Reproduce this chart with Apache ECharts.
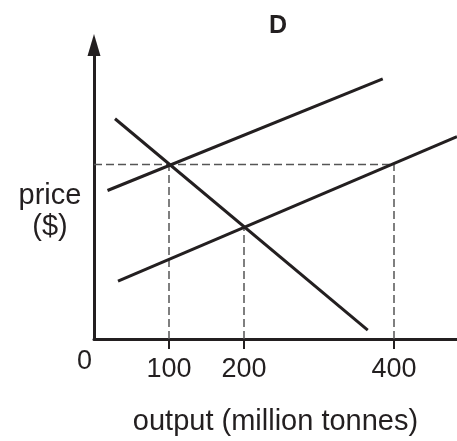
<!DOCTYPE html>
<html>
<head>
<meta charset="utf-8">
<script src="https://cdn.jsdelivr.net/npm/echarts@6/dist/echarts.min.js"></script>
<style>html,body{margin:0;padding:0;background:#fff;}#c{width:457px;height:441px;}</style>
</head>
<body>
<div id="c"></div>
<script>
// ---- data ----
const titleText = 'D';
const xAxisName = 'output (million tonnes)';
const yAxisName = 'price\n($)';
const xTickValues = [100, 200, 400];
const originLabel = [0];
const supplyUpper = [[18, 149], [385, 261]];
const supplyLower = [[32, 58], [484, 203]];
const demand = [[28, 221], [365, 9]];
const eqQuantity = [100, 200, 400];
const eqPrice = [175, 112, 175];
const xMax = 484;
const yMax = 295;

const ink = '#231f20';
const font = 'Liberation Sans, Arial, Helvetica, sans-serif';

const guides = [];
// horizontal guide at the highest equilibrium price
guides.push([[0, eqPrice[0]], [eqQuantity[2], eqPrice[2]]]);
eqQuantity.forEach((q, i) => guides.push([[q, 0], [q, eqPrice[i]]]));

const series = [];
guides.forEach(g => series.push({
  type: 'line', data: g, symbol: 'none', silent: true, xAxisIndex: 0,
  lineStyle: { color: '#555', width: 1.5, type: [8, 4] }, z: 2
}));
[supplyUpper, supplyLower, demand].forEach(d => series.push({
  type: 'line', data: d, symbol: 'none', silent: true, xAxisIndex: 0,
  lineStyle: { color: ink, width: 3 }, z: 3
}));

const chart = echarts.init(document.getElementById('c'), null, { renderer: 'canvas' });
chart.setOption({
  animation: false,
  backgroundColor: '#fff',
  title: [{
    text: titleText, left: 264, top: 9,
    textStyle: { fontFamily: font, fontSize: 25, fontWeight: 'bold', color: ink }
  }, {
    text: yAxisName, left: 50, top: 180, textAlign: 'center', padding: 0,
    textStyle: { fontFamily: font, fontSize: 29, fontWeight: 'normal', color: ink, lineHeight: 31 }
  }],
  grid: { left: 94, right: 0, top: 45, bottom: 101, containLabel: false },
  xAxis: [{
    type: 'value', min: 0, max: xMax,
    name: xAxisName, nameLocation: 'middle', nameGap: 68,
    nameTextStyle: { fontFamily: font, fontSize: 29, color: ink },
    axisLine: { show: true, lineStyle: { color: ink, width: 3 } },
    axisTick: { show: true, customValues: xTickValues, length: 10, lineStyle: { color: ink, width: 2 } },
    axisLabel: { show: true, customValues: xTickValues, margin: 17, fontFamily: font, fontSize: 27, color: ink },
    splitLine: { show: false }
  }, {
    type: 'value', min: 0, max: xMax, position: 'bottom',
    axisLine: { show: false }, axisTick: { show: false },
    axisLabel: { show: true, customValues: originLabel, margin: 9, align: 'right', padding: [0, 2, 0, 0], fontFamily: font, fontSize: 27, color: ink },
    splitLine: { show: false }
  }],
  yAxis: {
    type: 'value', min: 0, max: yMax,
    axisLine: { show: true, symbol: ['none', 'triangle'], symbolSize: [13, 22], lineStyle: { color: ink, width: 3 } },
    axisTick: { show: false }, axisLabel: { show: false }, splitLine: { show: false }
  },
  series: series
});
</script>
</body>
</html>
